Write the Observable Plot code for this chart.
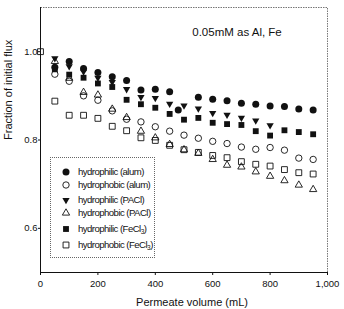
<!DOCTYPE html>
<html><head><meta charset="utf-8">
<script src="https://cdn.jsdelivr.net/npm/d3@7"></script>
<script src="https://cdn.jsdelivr.net/npm/@observablehq/plot@0.6"></script>
<style>
body{margin:0;background:#fff;}
#wrap{position:relative;width:344px;height:309px;overflow:hidden;}
#legend{position:absolute;left:50px;top:157px;width:105px;height:101px;border:1px dotted #666;box-sizing:border-box;font-family:"Liberation Sans Narrow","Liberation Sans",Arial,sans-serif;font-size:9.6px;letter-spacing:-0.55px;color:#111;background:#fff;}
.row{position:absolute;left:0;height:12px;width:100%;}
.row svg{position:absolute;left:9px;top:0;}
.row span{position:absolute;left:27px;top:0;line-height:12px;white-space:nowrap;}
.row sub{font-size:6.5px;vertical-align:-2px;line-height:0;}
</style></head><body><div id="wrap"><div id="legend"></div></div>
<script>
const titleText = "0.05mM as Al, Fe";
const xLabel = "Permeate volume (mL)";
const yLabel = "Fraction of initial flux";
const xTicks = [0, 200, 400, 600, 800, 1000];
const yTicks = [0.6, 0.8, 1.0];

const volumes = [50,100,150,200,250,300,350,400,450,500,550,600,650,700,750,800,850,900,950];
const alumPhilicVolumes = [50,100,150,200,250,300,350,400,450,480,550,600,650,700,750,800,850,900,950];
const paclPhilicVolumes = [50,100,150,200,250,300,350,400,450,500,550,600,650,700,750,800];
const feclPhobicVolumes = [0,50,100,150,200,250,300,350,400,450,500,550,600,650,700,750,800,850,900,950];

const alumPhilic = [0.965,0.978,0.962,0.953,0.943,0.935,0.913,0.915,0.909,0.868,0.897,0.892,0.889,0.883,0.881,0.877,0.876,0.870,0.868];
const alumPhobic = [0.949,0.933,0.900,0.890,0.866,0.847,0.841,0.830,0.820,0.811,0.804,0.797,0.792,0.784,0.779,0.783,0.777,0.759,0.756];
const paclPhilic = [0.985,0.967,0.955,0.941,0.931,0.915,0.897,0.895,0.882,0.878,0.871,0.861,0.857,0.850,0.844,0.833];
const paclPhobic = [0.978,0.940,0.908,0.902,0.870,0.851,0.820,0.805,0.790,0.778,0.770,0.756,0.743,0.739,0.728,0.718,0.708,0.698,0.688];
const feclPhilic = [0.960,0.948,0.941,0.928,0.920,0.891,0.881,0.873,0.859,0.846,0.850,0.839,0.836,0.834,0.820,0.810,0.822,0.818,0.813];
const feclPhobic = [1.000,0.888,0.856,0.856,0.849,0.831,0.821,0.805,0.799,0.788,0.778,0.772,0.765,0.760,0.751,0.745,0.741,0.733,0.726,0.723];

const seriesNames = ["hydrophilic (alum)","hydrophobic (alum)","hydrophilic (PACl)","hydrophobic (PACl)","hydrophilic (FeCl<sub>3</sub>)","hydrophobic (FeCl<sub>3</sub>)"];

const ink = "#111";
const series = [
  {name: seriesNames[0], xs: alumPhilicVolumes, ys: alumPhilic, symbol: "circle", filled: true, rotate: 0, r: 3.5},
  {name: seriesNames[1], xs: volumes, ys: alumPhobic, symbol: "circle", filled: false, rotate: 0, r: 3.2},
  {name: seriesNames[2], xs: paclPhilicVolumes, ys: paclPhilic, symbol: "triangle", filled: true, rotate: 180, r: 2.7},
  {name: seriesNames[3], xs: volumes, ys: paclPhobic, symbol: "triangle", filled: false, rotate: 0, r: 2.7},
  {name: seriesNames[4], xs: volumes, ys: feclPhilic, symbol: "square", filled: true, rotate: 0, r: 3.3},
  {name: seriesNames[5], xs: feclPhobicVolumes, ys: feclPhobic, symbol: "square", filled: false, rotate: 0, r: 3.3}
];

const font = '"Liberation Sans Narrow","Liberation Sans",Arial,sans-serif';

const dotMarks = series.map(s => {
  const rows = s.xs.map((v, i) => ({volume: v, flux: s.ys[i]}));
  return Plot.dot(rows, {
    x: "volume", y: "flux", symbol: s.symbol, r: s.r, rotate: s.rotate,
    fill: s.filled ? ink : "none",
    stroke: s.filled ? "none" : ink,
    strokeWidth: s.filled ? 0 : 0.9
  });
});

const chart = Plot.plot({
  width: 344, height: 309,
  marginLeft: 40, marginRight: 17, marginTop: 7, marginBottom: 37,
  style: {fontFamily: font, fontSize: "9.5px", color: ink, background: "white", overflow: "visible"},
  x: {domain: [0, 1000], ticks: xTicks, tickFormat: d3.format(","), label: null, tickSize: 3, tickPadding: 5},
  y: {domain: [0.5, 1.1], ticks: yTicks, tickFormat: d3.format(".1f"), label: null, tickSize: 2, tickPadding: 1},
  marks: [
    Plot.frame({stroke: "#777", strokeDasharray: "1.5,1"}),
    Plot.ruleX([0], {stroke: ink}),
    Plot.ruleY([0.5], {stroke: ink}),
    ...dotMarks,
    Plot.text([titleText], {frameAnchor: "top", dx: 53, dy: 25, text: d => d, fontSize: 11.5, fill: ink, letterSpacing: "-0.8px", lineAnchor: "middle"}),
    Plot.text([xLabel], {frameAnchor: "bottom", dx: 8, dy: 30, text: d => d, fontSize: 11, fill: ink, fontFamily: "Liberation Sans, Arial, sans-serif", lineAnchor: "middle"}),
    Plot.text([yLabel], {frameAnchor: "left", dx: -32.5, rotate: -90, text: d => d, fontSize: 11, fill: ink, fontFamily: "Liberation Sans, Arial, sans-serif", lineAnchor: "middle"})
  ]
});
document.getElementById("wrap").prepend(chart);

// legend
const legend = document.getElementById("legend");
const rowCenters = [13.5, 26.5, 42, 55, 71, 87];
series.forEach((s, i) => {
  const row = document.createElement("div");
  row.className = "row";
  row.style.top = (rowCenters[i] - 6) + "px";
  const symType = s.symbol === "circle" ? d3.symbolCircle : s.symbol === "square" ? d3.symbolSquare : d3.symbolTriangle;
  const path = d3.symbol(symType, Math.PI * s.r * s.r)();
  const fill = s.filled ? ink : "none";
  const stroke = s.filled ? "none" : ink;
  row.innerHTML = `<svg width="12" height="12" viewBox="-6 -6 12 12"><path d="${path}" fill="${fill}" stroke="${stroke}" stroke-width="0.9" transform="rotate(${s.rotate})"/></svg><span>${s.name}</span>`;
  legend.appendChild(row);
});
</script>
</body></html>
